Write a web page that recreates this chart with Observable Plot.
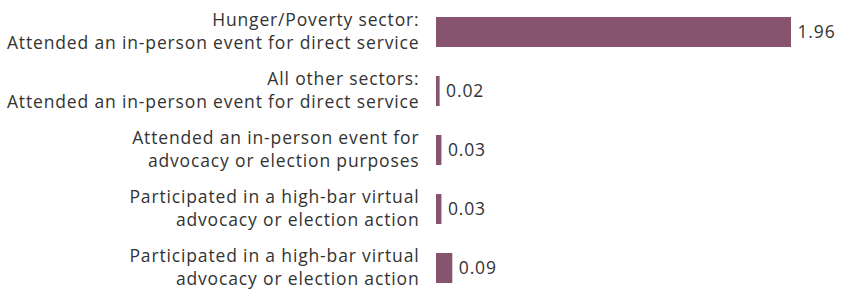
<!DOCTYPE html>
<html>
<head>
<meta charset="utf-8">
<script src="https://cdn.jsdelivr.net/npm/d3@7"></script>
<script src="https://cdn.jsdelivr.net/npm/@observablehq/plot@0.6"></script>
<style>
  html, body { margin: 0; padding: 0; background: #fff; }
</style>
</head>
<body>
<div id="chart"></div>
<script>
const labels = [
  "Hunger/Poverty sector:\nAttended an in-person event for direct service",
  "All other sectors:\nAttended an in-person event for direct service",
  "Attended an in-person event for\nadvocacy or election purposes",
  "Participated in a high-bar virtual\nadvocacy or election action",
  "Participated in a high-bar virtual\nadvocacy or election action"
];
const values = [1.96, 0.02, 0.03, 0.03, 0.09];
const valueLabels = ["1.96", "0.02", "0.03", "0.03", "0.09"];

const data = labels.map((label, i) => ({key: i, label, value: values[i], text: valueLabels[i]}));

const chart = Plot.plot({
  width: 843,
  height: 289,
  marginLeft: 436,
  marginRight: 52,
  marginTop: 17,
  marginBottom: 6.5,
  style: {fontFamily: "'Open Sans', sans-serif", fontSize: "17.5px", color: "#333", letterSpacing: "0.85px", overflow: "visible"},
  x: {domain: [0, 1.96], axis: null},
  y: {domain: data.map(d => d.key), axis: null, paddingInner: 0.5, paddingOuter: 0},
  marks: [
    Plot.barX(data, {x: "value", y: "key", fill: "#875470"}),
    Plot.text(data, {x: 0, y: "key", text: "label", textAnchor: "end", dx: -17, dy: -2, lineHeight: 1.32, fill: "#333", fontSize: 17.5}),
    Plot.text(data, {x: "value", y: "key", text: "text", textAnchor: "start", dx: 6, fill: "#333", fontSize: 17.5})
  ]
});
document.getElementById("chart").appendChild(chart);
</script>
</body>
</html>
